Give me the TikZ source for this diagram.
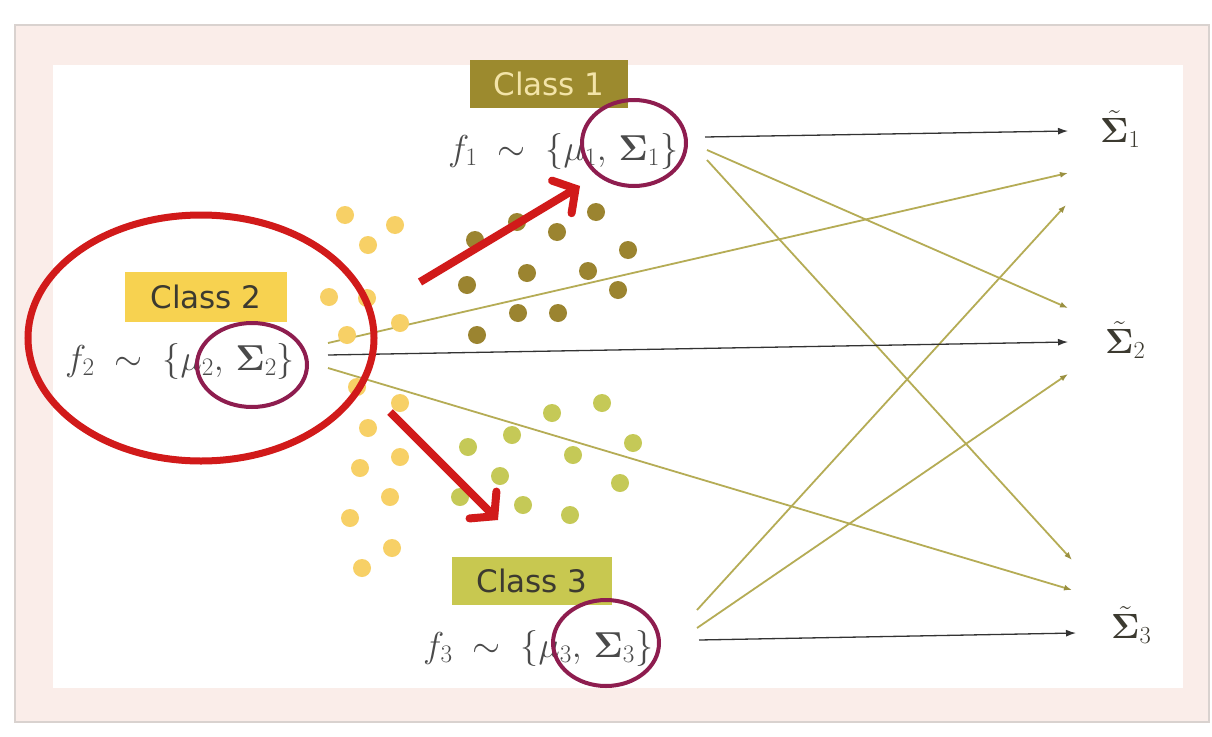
\RequirePackage{fix-cm}
\documentclass[tikz,border=0pt]{standalone}
\usepackage{amsmath}
\usepackage[no-math]{fontspec}
\newfontfamily\clsfont{DejaVu Sans}
\usetikzlibrary{arrows.meta}
\definecolor{framepink}{HTML}{FAEDE9}
\definecolor{framegray}{HTML}{D9D2CF}
\definecolor{cAbox}{HTML}{9C8A2E}
\definecolor{cAtext}{HTML}{F3E4A8}
\definecolor{cBbox}{HTML}{F7D250}
\definecolor{cCbox}{HTML}{C8C850}
\definecolor{darktext}{HTML}{3C3A30}
\definecolor{dotA}{HTML}{9B8430}
\definecolor{dotB}{HTML}{F7D066}
\definecolor{dotC}{HTML}{C5C957}
\definecolor{oliveline}{HTML}{B5AC55}
\definecolor{olivetip}{HTML}{9A9040}
\definecolor{purp}{HTML}{8E1D4F}
\definecolor{bigred}{HTML}{D11A1A}
\definecolor{formgray}{HTML}{4A4A4A}
\begin{document}
\begin{tikzpicture}[x=1pt,y=-1pt,
  clsbox/.style={minimum height=48pt, inner sep=0pt, font=\clsfont\fontsize{31}{33}\selectfont},
  formula/.style={anchor=base west, inner sep=0pt, text=formgray, font=\fontsize{36}{40}\selectfont},
  siglabel/.style={anchor=base west, inner sep=0pt, text=darktext, font=\fontsize{35}{38}\selectfont},
  blackarrow/.style={draw=black!80, line width=1.3pt, -{Latex[length=10pt,width=7pt]}},
  olivearrow/.style={draw=oliveline, line width=1.8pt, -{Latex[length=8pt,width=6pt,color=olivetip]}},
  redarrow/.style={draw=bigred, line width=8pt, -{Straight Barb[length=16pt,width=38pt,line cap=round]}},
  purpring/.style={draw=purp, line width=4pt},
]
\useasboundingbox (0,0) rectangle (1212,736);
\fill[white] (0,0) rectangle (1212,736);
\filldraw[fill=framepink, draw=framegray, line width=2pt] (15,25) rectangle (1209,722);
\fill[white] (53,65) rectangle (1183,688);

% connector end points
\coordinate (a1s) at (705,137);  \coordinate (a1e) at (1068,131);
\coordinate (a2s) at (707,150);  \coordinate (a2e) at (1068,308);
\coordinate (a3s) at (707,160);  \coordinate (a3e) at (1072,560);
\coordinate (b1s) at (328,343);  \coordinate (b1e) at (1068,173);
\coordinate (b2s) at (328,355);  \coordinate (b2e) at (1068,342);
\coordinate (b3s) at (328,368);  \coordinate (b3e) at (1072,590);
\coordinate (c1s) at (697,610);  \coordinate (c1e) at (1066,205);
\coordinate (c2s) at (697,628);  \coordinate (c2e) at (1068,374);
\coordinate (c3s) at (699,640);  \coordinate (c3e) at (1076,633);

% olive lines
\draw[olivearrow] (a2s) -- (a2e);
\draw[olivearrow] (a3s) -- (a3e);
\draw[olivearrow] (b1s) -- (b1e);
\draw[olivearrow] (b3s) -- (b3e);
\draw[olivearrow] (c1s) -- (c1e);
\draw[olivearrow] (c2s) -- (c2e);
% black lines
\draw[blackarrow] (a1s) -- (a1e);
\draw[blackarrow] (b2s) -- (b2e);
\draw[blackarrow] (c3s) -- (c3e);

% dots
\foreach \x/\y in {596/212,517/222,557/232,475/240,628/250,527/273,588/271,467/285,618/290,518/313,558/313,477/335}
  \fill[dotA] (\x,\y) circle (9pt);
\foreach \x/\y in {345/215,395/225,368/245,329/297,367/298,400/323,347/335,357/387,400/403,368/428,400/457,360/468,390/497,350/518,392/548,362/568}
  \fill[dotB] (\x,\y) circle (9pt);
\foreach \x/\y in {602/403,552/413,512/435,468/447,633/443,573/455,500/476,620/483,460/497,523/505,570/515}
  \fill[dotC] (\x,\y) circle (9pt);

% class boxes
\node[clsbox, minimum width=158pt, fill=cAbox, text=cAtext] (cls1) at (549,84) {Class 1};
\node[clsbox, minimum width=162pt, minimum height=50pt, fill=cBbox, text=darktext] (cls2) at (206,297) {Class 2};
\node[clsbox, minimum width=160pt, fill=cCbox, text=darktext] (cls3) at (532,581) {Class 3};

% formulas
\node[formula] (f1) at (448,160) {$f_1\;\sim\;\{\mu_1,\,\mathbf{\Sigma}_1\}$};
\node[formula] (f2) at (65,370) {$f_2\;\sim\;\{\mu_2,\,\mathbf{\Sigma}_2\}$};
\node[formula] (f3) at (423,657) {$f_3\;\sim\;\{\mu_3,\,\mathbf{\Sigma}_3\}$};

% sigma tilde labels
\node[siglabel] (s1) at (1100,142) {$\tilde{\mathbf{\Sigma}}_1$};
\node[siglabel] (s2) at (1105,353) {$\tilde{\mathbf{\Sigma}}_2$};
\node[siglabel] (s3) at (1111,638) {$\tilde{\mathbf{\Sigma}}_3$};

% purple rings
\draw[purpring] (634,143) ellipse [x radius=52pt, y radius=43pt];
\draw[purpring] (252,365) ellipse [x radius=55pt, y radius=42pt];
\draw[purpring] (606,643) ellipse [x radius=53pt, y radius=43pt];

% red ellipse and arrows
\draw[draw=bigred, line width=7pt] (201,338) ellipse [x radius=173pt, y radius=123pt];
\coordinate (r1s) at (420,282); \coordinate (r1e) at (580,186);
\coordinate (r2s) at (390,412); \coordinate (r2e) at (498,520);
\draw[redarrow] (r1s) -- (r1e);
\draw[redarrow] (r2s) -- (r2e);
\end{tikzpicture}
\end{document}
